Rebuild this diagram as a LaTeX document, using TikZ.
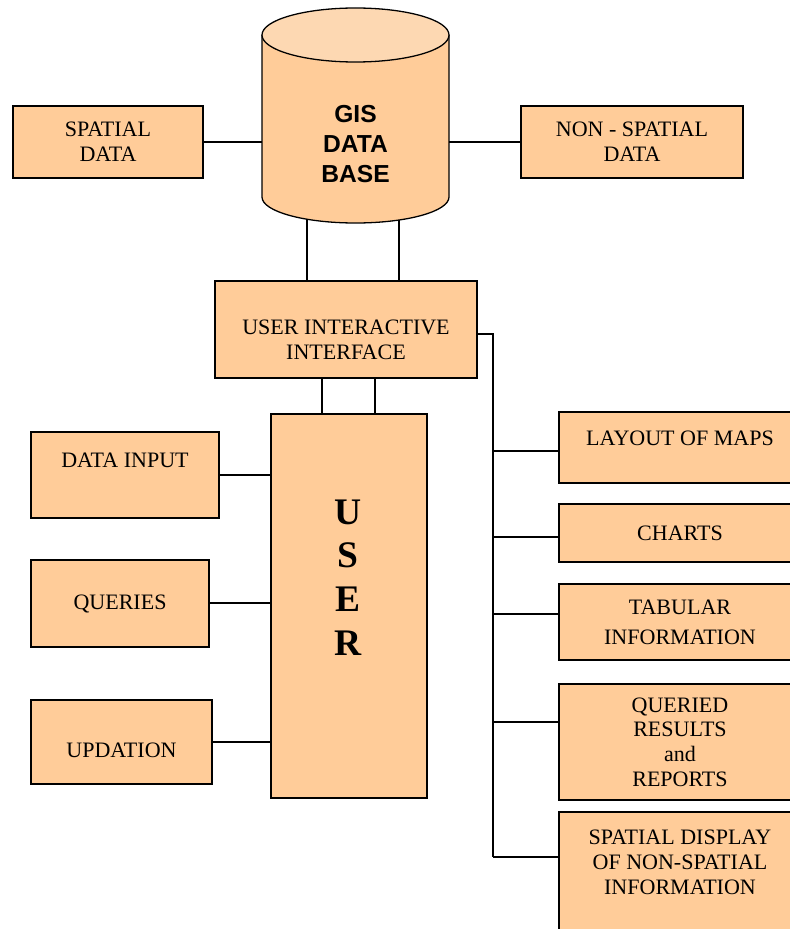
\documentclass[tikz,border=0pt]{standalone}
\usepackage{fontspec}
\setmainfont{Liberation Serif}
\newfontfamily\gisfont{Liberation Sans}
\usetikzlibrary{calc}

\definecolor{boxfill}{RGB}{255,204,153}
\definecolor{topfill}{RGB}{253,216,178}
\newcommand{\boxfont}{\fontsize{18.8}{21}\selectfont}

\begin{document}
\begin{tikzpicture}[x=0.03cm, y=0.03cm,
		line/.style={line width=1.1pt},
		box/.style={draw, fill=boxfill, line width=1.1pt, inner sep=0pt, align=center, font=\boxfont},
		txt/.style={align=center, font=\boxfont, inner sep=0pt}]

		\useasboundingbox (0,0) rectangle (790,-929);
		\clip (0,0) rectangle (790,-929);

		% Base de données (cylindre)
		\fill[boxfill] (262,-35) -- (262,-197) arc[start angle=180, end angle=360, x radius=93.5, y radius=26] -- (449,-35) -- cycle;
		\draw[line] (262,-35) -- (262,-197) arc[start angle=180, end angle=360, x radius=93.5, y radius=26] -- (449,-35);
		\draw[line, fill=topfill] (355.5,-35) ellipse [x radius=93.5, y radius=27];
		\node[align=center, inner sep=0pt, minimum width=5.61cm, minimum height=4.56cm,
			font=\gisfont\bfseries\fontsize{21}{26}\selectfont] (db) at (355.5,-144) {GIS\\DATA\\BASE};

		% Données en haut
		\node[box, minimum width=5.70cm, minimum height=2.16cm] (sp) at (108,-142) {SPATIAL\\DATA};
		\node[box, minimum width=6.66cm, minimum height=2.16cm] (nsp) at (632,-142) {NON - SPATIAL\\DATA};

		% Interface
		\node[box, minimum width=7.86cm, minimum height=2.91cm] (ui) at (346,-329.5) {};
		\node[txt] (uitxt) at (346,-340) {USER INTERACTIVE\\INTERFACE};

		% Utilisateur
		\node[box, minimum width=4.68cm, minimum height=11.52cm] (usr) at (349,-606) {};
		\node[txt, font=\bfseries\fontsize{32}{37.3}\selectfont] (usrtxt) at (348,-577.5) {U\\S\\E\\R};

		% Boîtes à gauche
		\node[box, minimum width=5.64cm, minimum height=2.58cm] (inp) at (125,-475) {};
		\node[txt] (inptxt) at (125,-460) {DATA INPUT};
		\node[box, minimum width=5.34cm, minimum height=2.61cm] (qry) at (120,-603.5) {QUERIES};
		\node[box, minimum width=5.43cm, minimum height=2.52cm] (upd) at (121.5,-742) {};
		\node[txt] (updtxt) at (121.5,-750) {UPDATION};

		% Boîtes à droite
		\node[box, minimum width=7.26cm, minimum height=2.13cm] (lay) at (680,-447.5) {};
		\node[txt] (laytxt) at (680,-438) {LAYOUT OF MAPS};
		\node[box, minimum width=7.26cm, minimum height=1.74cm] (cht) at (680,-533) {CHARTS};
		\node[box, minimum width=7.26cm, minimum height=2.28cm] (tab) at (680,-622) {TABULAR\\[4.6pt]INFORMATION};
		\node[box, minimum width=7.26cm, minimum height=3.48cm] (que) at (680,-742) {QUERIED\\RESULTS\\and\\REPORTS};
		\node[box, minimum width=7.26cm, minimum height=4.44cm] (sdp) at (680,-886) {};
		\node[txt, font=\fontsize{18.8}{21.5}\selectfont] (sdptxt) at (680,-862) {SPATIAL DISPLAY\\OF NON-SPATIAL\\INFORMATION};

		% Points de branchement
		\coordinate (c1) at (307,-250);
		\coordinate (c2) at (399,-250);
		\coordinate (u1) at (322,-400);
		\coordinate (u2) at (375,-400);
		\coordinate (b0) at (493,-334);
		\coordinate (b1) at (493,-451);
		\coordinate (b2) at (493,-537);
		\coordinate (b3) at (493,-614);
		\coordinate (b4) at (493,-722);
		\coordinate (b5) at (493,-857);

		% Liaisons
		\draw[line] (sp.east) -- (sp.east -| db.west);
		\draw[line] (nsp.west) -- (nsp.west -| db.east);
		\draw[line] (c1 |- db.south) -- (c1 |- ui.north);
		\draw[line] (c2 |- db.south) -- (c2 |- ui.north);
		\draw[line] (u1 |- ui.south) -- (u1 |- usr.north);
		\draw[line] (u2 |- ui.south) -- (u2 |- usr.north);
		\draw[line] (inp.east) -- (inp.east -| usr.west);
		\draw[line] ([yshift=0.5pt]qry.east) -- ([yshift=0.5pt]qry.east -| usr.west);
		\draw[line] (upd.east) -- (upd.east -| usr.west);

		% Tronc à droite
		\draw[line] (b0 -| ui.east) -- (b0) -- (b5);
		\draw[line] (b1) -- (b1 -| lay.west);
		\draw[line] (b2) -- (b2 -| cht.west);
		\draw[line] (b3) -- (b3 -| tab.west);
		\draw[line] (b4) -- (b4 -| que.west);
		\draw[line] (b5) -- (b5 -| sdp.west);

	\end{tikzpicture}
\end{document}
